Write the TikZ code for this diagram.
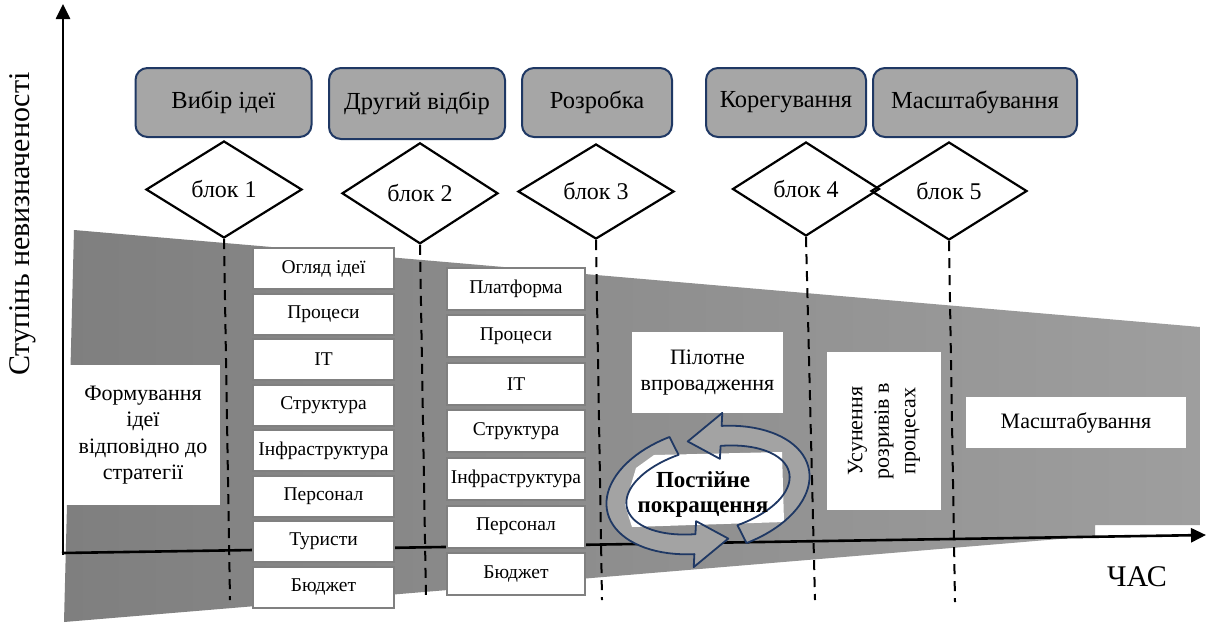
\documentclass[tikz,border=0pt]{standalone}
\usepackage{fontspec}
\setmainfont{Liberation Serif}
\usetikzlibrary{shapes.geometric,arrows.meta}
\definecolor{navy}{HTML}{1F3864}
\definecolor{topfill}{HTML}{A6A6A6}
\definecolor{cellgray}{HTML}{808080}
\definecolor{funnelL}{HTML}{7F7F7F}
\definecolor{funnelR}{HTML}{9E9E9E}
\definecolor{arrowgray}{HTML}{A3A3A3}
\begin{document}
\begin{tikzpicture}[x=1pt,y=-1pt,
  topbox/.style={rectangle, rounded corners=12pt, fill=topfill, draw=navy, line width=2pt, inner sep=0pt, font=\fontsize{24.5}{28}\selectfont},
  blk/.style={diamond, draw=black, line width=2.2pt, inner sep=0pt, font=\fontsize{24}{28}\selectfont},
  cell/.style={rectangle, fill=white, draw=cellgray, line width=2pt, inner sep=0pt, minimum width=141pt, minimum height=41pt, font=\fontsize{19.5}{22}\selectfont},
  rcell/.style={cell, minimum width=138pt, minimum height=42pt},
  area/.style={rectangle, fill=white, inner sep=0pt, align=center, font=\fontsize{22}{26.5}\selectfont},
  vguide/.style={line width=2pt, dash pattern=on 10pt off 7pt},
  axisline/.style={line width=2.6pt, -{Triangle[length=15pt,width=14pt]}},
  cycfill/.style={fill=arrowgray},
  cycline/.style={draw=navy, line width=1.8pt, line join=round},
  axlabel/.style={font=\fontsize{30}{34}\selectfont, inner sep=0pt}
]
\useasboundingbox (0,0) rectangle (1206,625);
\fill[white] (0,0) rectangle (1206,625);

% funnel
\shade[left color=funnelL, right color=funnelR]
  (74,230) -- (1200,327) -- (1200,525) -- (1095,525) -- (1095,536) -- (64,622) -- cycle;

% axes
\coordinate (O) at (63,555);
\coordinate (Ytop) at (63,4);
\coordinate (Xstart) at (62,553);
\coordinate (Xend) at (1206,535);
\draw[axisline] (O) -- (Ytop);
\draw[axisline] (Xstart) -- (Xend);
\node[axlabel, rotate=90] (ylab) at (23,224) {Ступінь невизначеності};
\node[axlabel] (xlab) at (1137,577) {ЧАС};

% top boxes
\node[topbox, minimum width=176pt, minimum height=69pt] (t1) at (223.5,102.5) {Вибір ідеї};
\node[topbox, minimum width=176pt, minimum height=71pt] (t2) at (417,103.5) {Другий відбір};
\node[topbox, minimum width=150pt, minimum height=69pt] (t3) at (597,102.5) {Розробка};
\node[topbox, minimum width=160pt, minimum height=69pt] (t4) at (786,102.5) {Корегування};
\node[topbox, minimum width=204pt, minimum height=69pt] (t5) at (975,102.5) {Масштабування};

% diamonds
\node[blk, minimum width=156pt, minimum height=97pt] (d1) at (224,189.5) {блок 1};
\node[blk, minimum width=156pt, minimum height=101pt] (d2) at (420,193.3) {блок 2};
\node[blk, minimum width=156pt, minimum height=95pt] (d3) at (596,191.5) {блок 3};
\node[blk, minimum width=147pt, minimum height=94pt] (d4) at (806,189) {блок 4};
\node[blk, minimum width=156pt, minimum height=98pt] (d5) at (949,191) {блок 5};

% dashed guides
\coordinate (e1) at (230,600);
\coordinate (e2) at (426,600);
\coordinate (e3) at (602,600);
\coordinate (e4) at (815,600);
\coordinate (e5) at (955,602);
\draw[vguide] (d1.south) -- (e1);
\draw[vguide] (d2.south) -- (e2);
\draw[vguide] (d3.south) -- (e3);
\draw[vguide] (d4.south) -- (e4);
\draw[vguide] (d5.south) -- (e5);

% left column
\foreach \t [count=\i] in {Огляд ідеї, Процеси, IT, Структура, Інфраструктура, Персонал, Туристи, Бюджет}
  \node[cell] (l\i) at (323.5,{268.5+45.5*(\i-1)}) {\t};
% right column
\foreach \t [count=\i] in {Платформа, Процеси, IT, Структура, Інфраструктура, Персонал, Бюджет}
  \node[rcell] (r\i) at (516,{288.5+47.6*(\i-1)}) {\t};

% areas
\node[area, minimum width=154pt, minimum height=140pt] (form) at (143,435) {Формування\\ідеї\\відповідно до\\стратегії};
\node[area, minimum width=151pt, minimum height=81pt] (pilot) at (707.5,372.5) {Пілотне\\впровадження};
\node[area, rotate=90, minimum width=158pt, minimum height=114pt] (gap) at (884,431) {Усунення\\розривів в\\процесах};
\node[area, minimum width=220pt, minimum height=51pt] (scale) at (1076,422.5) {Масштабування};

% cycle arrows
\begin{scope}[shift={(708,490)}, rotate=12]
  \path[cycfill] plot[domain=255:105, samples=40] ({103*cos(\x)},{62*sin(\x)})
     -- ({116*cos(105)},{75*sin(105)}) -- ({93*cos(84)},{52*sin(84)}) -- ({70*cos(105)},{29*sin(105)})
     -- plot[domain=105:255, samples=40] ({83*cos(\x)},{42*sin(\x)}) -- cycle;
  \path[cycfill] plot[domain=75:-75, samples=40] ({103*cos(\x)},{62*sin(\x)})
     -- ({116*cos(-75)},{75*sin(-75)}) -- ({93*cos(-96)},{52*sin(-96)}) -- ({70*cos(-75)},{29*sin(-75)})
     -- plot[domain=-75:75, samples=40] ({83*cos(\x)},{42*sin(\x)}) -- cycle;
\end{scope}
\fill[white] (636,468) -- (654,455) -- (782,452) -- (784,522) -- (632,527) -- (625,505) -- cycle;
\begin{scope}[shift={(708,490)}, rotate=12]
  \path[cycline] plot[domain=255:105, samples=40] ({103*cos(\x)},{62*sin(\x)})
     -- ({116*cos(105)},{75*sin(105)}) -- ({93*cos(84)},{52*sin(84)}) -- ({70*cos(105)},{29*sin(105)})
     -- plot[domain=105:255, samples=40] ({83*cos(\x)},{42*sin(\x)}) -- cycle;
  \path[cycline] plot[domain=75:-75, samples=40] ({103*cos(\x)},{62*sin(\x)})
     -- ({116*cos(-75)},{75*sin(-75)}) -- ({93*cos(-96)},{52*sin(-96)}) -- ({70*cos(-75)},{29*sin(-75)})
     -- plot[domain=-75:75, samples=40] ({83*cos(\x)},{42*sin(\x)}) -- cycle;
\end{scope}
\node[font=\bfseries\fontsize{23}{25}\selectfont, align=center, inner sep=0pt] (cont) at (703,494) {Постійне\\покращення};
\end{tikzpicture}
\end{document}
